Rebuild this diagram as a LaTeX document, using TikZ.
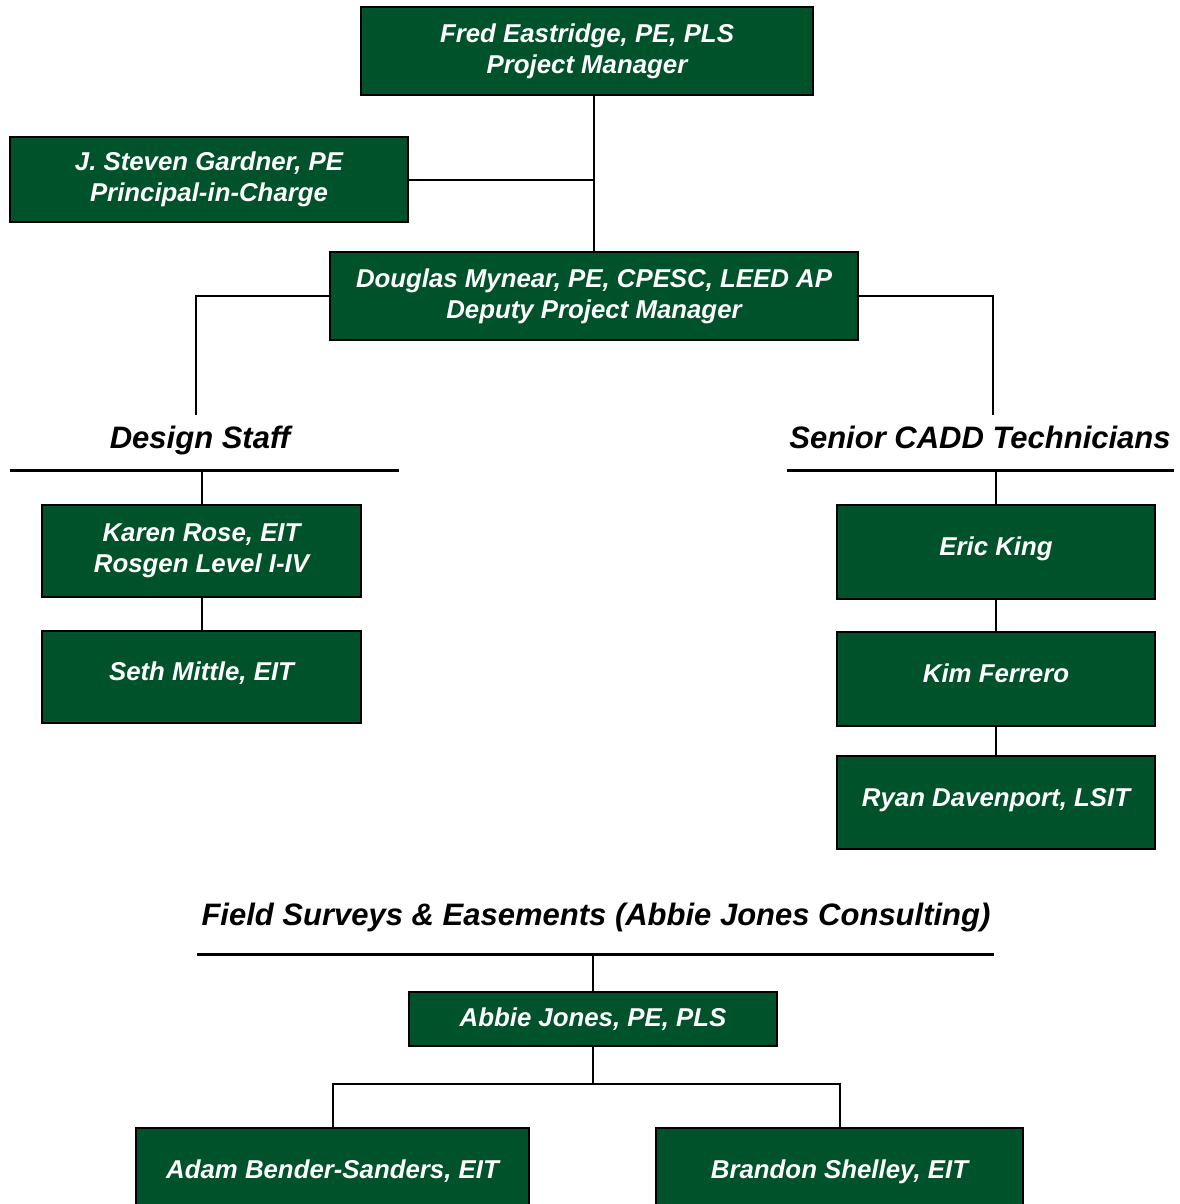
\documentclass[tikz,border=0pt]{standalone}
\usepackage{fontspec}
\setmainfont{Liberation Sans}
\usepackage{tikz}
\usetikzlibrary{positioning}
\definecolor{boxgreen}{RGB}{0,82,42}

\begin{document}
\begin{tikzpicture}[x=0.5pt, y=-0.5pt,
  staff/.style={draw=black, line width=1pt, fill=boxgreen, text=white,
    font=\fontsize{12.9}{15.5}\selectfont\bfseries\itshape, align=center, inner sep=0pt},
  oneline/.style={text height=9.3pt, text depth=5.8pt},
  grouphead/.style={font=\fontsize{15.5}{18}\selectfont\bfseries\itshape, anchor=base, inner sep=0pt},
  link/.style={line width=1pt},
  rule/.style={line width=1.5pt}]
  \useasboundingbox (0,0) rectangle (1179,1204);

  \node[staff, minimum width=226pt, minimum height=44pt] (pm) at (587,51)
    {Fred Eastridge, PE, PLS\\Project Manager};
  \node[staff, minimum width=199pt, minimum height=42.5pt] (pic) at (209,179.5)
    {J. Steven Gardner, PE\\Principal-in-Charge};
  \node[staff, minimum width=264pt, minimum height=44pt] (dpm) at (594,296)
    {Douglas Mynear, PE, CPESC, LEED AP\\Deputy Project Manager};

  \node[grouphead] (design) at (200,448) {Design Staff};
  \node[grouphead] (cadd) at (980,448) {Senior CADD Technicians};
  \node[grouphead] (field) at (596,925) {Field Surveys \& Easements (Abbie Jones Consulting)};

  \coordinate (designL) at (10,470);
  \coordinate (designR) at (399,470);
  \coordinate (caddL) at (787,470);
  \coordinate (caddR) at (1174,470);
  \coordinate (fieldL) at (197,954);
  \coordinate (fieldR) at (994,954);
  \draw[rule] (designL) -- (designR);
  \draw[rule] (caddL) -- (caddR);
  \draw[rule] (fieldL) -- (fieldR);

  \node[staff, minimum width=159.5pt, minimum height=46pt] (karen) at (201.5,551)
    {Karen Rose, EIT\\Rosgen Level I-IV};
  \node[staff, oneline, minimum width=159.5pt, minimum height=46pt] (seth) at (201.5,677)
    {Seth Mittle, EIT};

  \node[staff, oneline, minimum width=159pt, minimum height=47pt] (eric) at (996,552) {Eric King};
  \node[staff, oneline, minimum width=159pt, minimum height=47pt] (kim) at (996,679) {Kim Ferrero};
  \node[staff, oneline, minimum width=159pt, minimum height=46.5pt] (ryan) at (996,802.5)
    {Ryan Davenport, LSIT};

  \node[staff, minimum width=184pt, minimum height=27pt] (abbie) at (593,1019)
    {Abbie Jones, PE, PLS};
  \node[staff, oneline, minimum width=196.5pt, minimum height=47pt] (adam) at (332.5,1175)
    {Adam Bender-Sanders, EIT};
  \node[staff, oneline, minimum width=183.5pt, minimum height=47pt] (brandon) at (839.5,1175)
    {Brandon Shelley, EIT};

  \coordinate (designtop) at (196,415);
  \coordinate (caddtop) at (993,415);
  \coordinate (fork) at (593,1084);

  \draw[link] (dpm.north) -- (dpm.north |- pm.south);
  \draw[link] (pic.east) -- (pic.east -| dpm.north);
  \draw[link] (dpm.west) -| (designtop);
  \draw[link] (dpm.east) -| (caddtop);
  \draw[link] (karen.north) -- (karen.north |- designL);
  \draw[link] (karen) -- (seth);
  \draw[link] (eric.north) -- (eric.north |- caddL);
  \draw[link] (eric) -- (kim);
  \draw[link] (kim) -- (ryan);
  \draw[link] (abbie.north) -- (abbie.north |- fieldL);
  \draw[link] (abbie.south) -- (fork);
  \draw[link] (adam.north) |- (fork) -| (brandon.north);
\end{tikzpicture}
\end{document}
